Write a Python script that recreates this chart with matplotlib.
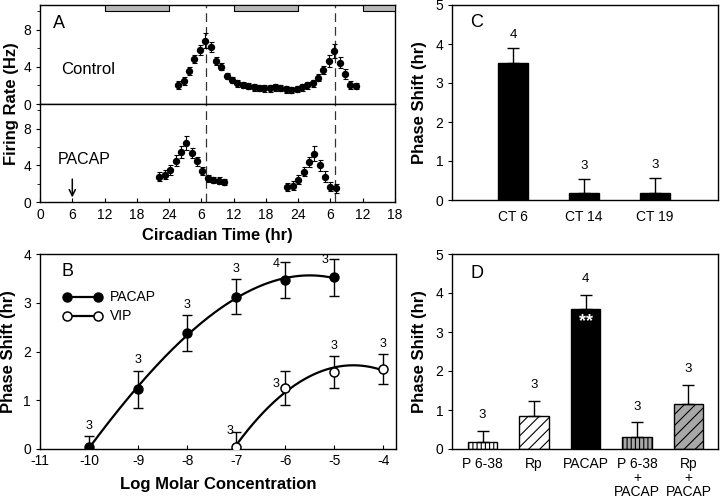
import matplotlib
matplotlib.use('Agg')
import matplotlib.pyplot as plt
import numpy as np

plt.rcParams['font.family'] = ['Liberation Sans', 'DejaVu Sans']
plt.rcParams['font.size'] = 10
plt.rcParams['axes.linewidth'] = 1.0
plt.rcParams['axes.unicode_minus'] = False
plt.rcParams['hatch.linewidth'] = 0.8

# ===== data: A (firing rate) =====
control_ct = [25.7, 26.7, 27.7, 28.7, 29.7, 30.7, 31.7, 32.7, 33.7, 34.7, 35.7, 36.7,
              37.7, 38.7, 39.7, 40.7, 41.7, 42.7, 43.7, 44.7, 45.7, 46.7, 47.7, 48.7,
              49.7, 50.7, 51.7, 52.7, 53.7, 54.7, 55.7, 56.7, 57.7, 58.7]
control_rate = [2.05, 2.5, 3.57, 4.83, 5.84, 6.85, 6.13, 4.65, 4.04, 3.03, 2.6, 2.23,
                2.05, 1.95, 1.8, 1.73, 1.7, 1.7, 1.8, 1.73, 1.59, 1.51, 1.62, 1.8,
                2.0, 2.23, 2.85, 3.68, 4.65, 5.73, 4.45, 3.24, 2.05, 1.95]
control_err = [0.4, 0.45, 0.45, 0.45, 0.5, 0.8, 0.55, 0.4, 0.4, 0.35, 0.35, 0.35,
               0.35, 0.35, 0.35, 0.35, 0.35, 0.35, 0.35, 0.35, 0.35, 0.35, 0.35, 0.35,
               0.35, 0.35, 0.4, 0.45, 0.6, 0.8, 0.6, 0.5, 0.4, 0.35]
pacap_ct = [22.2, 23.2, 24.2, 25.2, 26.2, 27.2, 28.2, 29.2, 30.2, 31.2, 32.2, 33.2, 34.2,
            46.0, 47.0, 48.0, 49.0, 50.0, 51.0, 52.0, 53.0, 54.0, 55.0]
pacap_rate = [2.78, 2.97, 3.52, 4.5, 5.49, 6.45, 5.35, 4.43, 3.41, 2.6, 2.42, 2.34, 2.16,
              1.61, 1.8, 2.42, 3.3, 4.32, 5.27, 3.99, 2.78, 1.69, 1.5]
pacap_err = [0.45, 0.5, 0.55, 0.6, 0.65, 0.75, 0.6, 0.5, 0.45, 0.4, 0.35, 0.35, 0.35,
             0.45, 0.45, 0.5, 0.5, 0.55, 0.8, 0.6, 0.6, 0.5, 0.5]
night_start = [12, 36, 60]
night_len = 12
peak_ct = [30.8, 54.8]
a_ticks = [0, 6, 12, 18, 24, 30, 36, 42, 48, 54, 60, 66]
a_ticklabels = ['0', '6', '12', '18', '24', '6', '12', '18', '24', '6', '12', '18']

# ===== data: B (dose response) =====
b_conc_pacap = [-10, -9, -8, -7, -6, -5]
b_shift_pacap = [0.04, 1.23, 2.38, 3.12, 3.46, 3.52]
b_err_pacap = [0.23, 0.38, 0.36, 0.36, 0.37, 0.38]
b_n_pacap = ['3', '3', '3', '3', '4', '3']
b_conc_vip = [-7, -6, -5, -4]
b_shift_vip = [0.05, 1.26, 1.58, 1.64]
b_err_vip = [0.29, 0.35, 0.33, 0.30]
b_n_vip = ['3', '3', '3', '3']

# ===== data: C =====
c_labels = ['CT 6', 'CT 14', 'CT 19']
c_shift = [3.52, 0.17, 0.17]
c_err = [0.37, 0.37, 0.40]
c_n = ['4', '3', '3']

# ===== data: D =====
d_labels = ['P 6-38', 'Rp', 'PACAP', 'P 6-38\n+\nPACAP', 'Rp\n+\nPACAP']
d_shift = [0.17, 0.85, 3.59, 0.32, 1.16]
d_err = [0.30, 0.39, 0.37, 0.36, 0.49]
d_n = ['3', '3', '4', '3', '3']

fig = plt.figure(figsize=(7.2, 5), dpi=100)
fig.patch.set_facecolor('white')

# ===== A =====
axA1 = fig.add_axes([0.0556, 0.792, 0.493, 0.198])
axA2 = fig.add_axes([0.0556, 0.596, 0.493, 0.196])
for ax in (axA1, axA2):
    ax.set_xlim(0, 66)
    ax.set_ylim(0, 10.7)
    ax.set_yticks([0, 4, 8])
    ax.set_yticks([2, 6, 10], minor=True)
    ax.tick_params(axis='y', which='both', direction='out', length=3, labelsize=10)
    ax.tick_params(axis='y', which='minor', length=2)
    for x in peak_ct:
        ax.axvline(x, color='#333333', lw=0.9, dashes=(7, 4), zorder=1)
axA1.set_xticks(a_ticks)
axA1.tick_params(axis='x', length=0, labelbottom=False)
axA2.set_xticks(a_ticks)
axA2.set_xticklabels(a_ticklabels)
axA2.tick_params(axis='x', direction='in', length=3, labelsize=10, pad=4)

axA1.broken_barh([(s, night_len) for s in night_start], (10.05, 0.65),
                 facecolors='#b8b8b8', edgecolors='black', linewidth=0.8, zorder=3)

axA1.errorbar(control_ct, control_rate, yerr=control_err, fmt='o', color='black',
              ms=4.3, elinewidth=0.8, capsize=1.8, capthick=0.8, zorder=4)
axA2.errorbar(pacap_ct, pacap_rate, yerr=pacap_err, fmt='o', color='black',
              ms=4.3, elinewidth=0.8, capsize=1.8, capthick=0.8, zorder=4)

axA1.text(2.4, 8.75, 'A', fontsize=13, va='center')
axA1.text(3.9, 3.7, 'Control', fontsize=12, va='center')
axA2.text(3.3, 4.6, 'PACAP', fontsize=11.5, va='center')
axA2.annotate('', xy=(6, 0.2), xytext=(6, 2.8),
              arrowprops=dict(arrowstyle='->', lw=1.1, color='black', mutation_scale=11))
axA2.set_xlabel('Circadian Time (hr)', fontsize=12, fontweight='bold')
axA2.xaxis.set_label_coords(0.5, -0.27)
fig.text(0.016, 0.792, 'Firing Rate (Hz)', rotation=90, fontsize=12,
         fontweight='bold', ha='center', va='center')

# ===== B =====
axB = fig.add_axes([0.0556, 0.102, 0.494, 0.39])
axB.set_xlim(-11, -3.75)
axB.set_ylim(0, 4)
axB.set_xticks(np.arange(-11, -3))
axB.set_yticks([0, 1, 2, 3, 4])
axB.tick_params(axis='x', direction='in', length=3, labelsize=10)
axB.tick_params(axis='y', direction='out', length=3, labelsize=10)

fit_p = np.polyfit(b_conc_pacap, b_shift_pacap, 3)
xs_p = np.linspace(min(b_conc_pacap), max(b_conc_pacap), 200)
axB.plot(xs_p, np.polyval(fit_p, xs_p), color='black', lw=1.6, zorder=2)
fit_v = np.polyfit(b_conc_vip, b_shift_vip, 2)
xs_v = np.linspace(min(b_conc_vip), max(b_conc_vip), 200)
axB.plot(xs_v, np.polyval(fit_v, xs_v), color='black', lw=1.6, zorder=2)

axB.errorbar(b_conc_pacap, b_shift_pacap, yerr=b_err_pacap, fmt='none', ecolor='black',
             elinewidth=1, capsize=3.5, capthick=1, zorder=3)
axB.errorbar(b_conc_vip, b_shift_vip, yerr=b_err_vip, fmt='none', ecolor='black',
             elinewidth=1, capsize=3.5, capthick=1, zorder=3)
axB.plot(b_conc_pacap, b_shift_pacap, 'o', color='black', ms=6.5, zorder=4,
         label='PACAP')
axB.plot(b_conc_vip, b_shift_vip, 'o', mfc='white', mec='black', mew=1.1, ms=6.5,
         zorder=4, label='VIP')

# n labels: above the error bar, or to the left when near the top
place_p = ['up', 'up', 'up', 'up', 'left', 'left']
for x, y, e, n, p in zip(b_conc_pacap, b_shift_pacap, b_err_pacap, b_n_pacap, place_p):
    if p == 'up':
        axB.text(x, y + e + 0.21, n, ha='center', va='center', fontsize=9)
    else:
        axB.text(x - 0.19, y + e - 0.03, n, ha='center', va='center', fontsize=9)
place_v = ['left', 'leftmid', 'up', 'up']
for x, y, e, n, p in zip(b_conc_vip, b_shift_vip, b_err_vip, b_n_vip, place_v):
    if p == 'up':
        axB.text(x, y + e + 0.21, n, ha='center', va='center', fontsize=9)
    elif p == 'left':
        axB.text(x - 0.13, y + e + 0.02, n, ha='center', va='center', fontsize=9)
    else:
        axB.text(x - 0.2, y + 0.08, n, ha='center', va='center', fontsize=9)

# legend drawn as line with two markers
axB.plot([0.076, 0.163], [0.779, 0.779], '-o', color='black', ms=6.5, lw=1.6,
         transform=axB.transAxes, clip_on=False)
axB.plot([0.076, 0.163], [0.682, 0.682], '-o', color='black', mfc='white', mew=1.1,
         ms=6.5, lw=1.6, transform=axB.transAxes, clip_on=False)
axB.text(0.197, 0.779, 'PACAP', transform=axB.transAxes, va='center', fontsize=10)
axB.text(0.197, 0.682, 'VIP', transform=axB.transAxes, va='center', fontsize=10)
axB.text(0.06, 0.91, 'B', transform=axB.transAxes, va='center', fontsize=13)

axB.set_xlabel('Log Molar Concentration', fontsize=12, fontweight='bold')
axB.xaxis.set_label_coords(0.5, -0.145)
axB.set_ylabel('Phase Shift (hr)', fontsize=12, fontweight='bold')
axB.yaxis.set_label_coords(-0.067, 0.5)

# ===== C =====
axC = fig.add_axes([0.628, 0.60, 0.369, 0.39])
xc = np.arange(1, len(c_labels) + 1)
axC.bar(xc, c_shift, width=0.42, color='black', edgecolor='black', zorder=2)
axC.errorbar(xc, c_shift, yerr=[np.zeros(len(c_err)), c_err], fmt='none', ecolor='black',
             elinewidth=1, capsize=4.5, capthick=1, zorder=3)
for x, y, e, n in zip(xc, c_shift, c_err, c_n):
    axC.annotate(n, (x, y + e), xytext=(0, 9.5), textcoords='offset points',
                 ha='center', va='center', fontsize=9.5)
axC.set_xlim(0.14, 3.89)
axC.set_ylim(0, 5)
axC.set_xticks(xc)
axC.set_xticklabels(c_labels)
axC.tick_params(axis='x', length=0, pad=7, labelsize=10)
axC.tick_params(axis='y', direction='out', length=3, labelsize=10)
axC.text(0.068, 0.91, 'C', transform=axC.transAxes, va='center', fontsize=13)
axC.set_ylabel('Phase Shift (hr)', fontsize=12, fontweight='bold')
axC.yaxis.set_label_coords(-0.094, 0.5)

# ===== D =====
axD = fig.add_axes([0.628, 0.102, 0.369, 0.39])
xd = np.arange(1, len(d_labels) + 1)
d_face = ['white', 'white', 'black', '#a8a8a8', '#a8a8a8']
d_hatch = ['||||', '///', None, '||||', '///']
for x, y, fc, h in zip(xd, d_shift, d_face, d_hatch):
    axD.bar(x, y, width=0.58, color=fc, edgecolor='black', hatch=h, linewidth=1, zorder=2)
axD.errorbar(xd, d_shift, yerr=[np.zeros(len(d_err)), d_err], fmt='none', ecolor='black',
             elinewidth=1, capsize=4.5, capthick=1, zorder=3)
for x, y, e, n in zip(xd, d_shift, d_err, d_n):
    axD.annotate(n, (x, y + e), xytext=(0, 11), textcoords='offset points',
                 ha='center', va='center', fontsize=9.5)
axD.text(3, 3.27, '**', color='white', fontsize=13, fontweight='bold',
         ha='center', va='center', zorder=4)
axD.set_xlim(0.41, 5.57)
axD.set_ylim(0, 5)
axD.set_xticks(xd)
axD.set_xticklabels(d_labels, linespacing=1.0)
axD.tick_params(axis='x', length=0, pad=6, labelsize=10)
axD.tick_params(axis='y', direction='out', length=3, labelsize=10)
axD.text(0.068, 0.9, 'D', transform=axD.transAxes, va='center', fontsize=13)
axD.set_ylabel('Phase Shift (hr)', fontsize=12, fontweight='bold')
axD.yaxis.set_label_coords(-0.094, 0.5)

plt.savefig('out.png', dpi=100, facecolor='white')
